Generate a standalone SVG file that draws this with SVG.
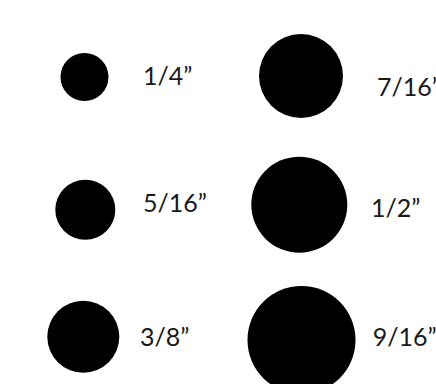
<svg xmlns="http://www.w3.org/2000/svg" width="436" height="384" viewBox="0 0 436 384">
<style>
.dot{fill:#000}
.lbl{font-family:Lato,"DejaVu Sans Condensed","Liberation Sans",sans-serif;font-weight:400;font-size:25px;fill:#1a1a1a}
</style>
<rect width="436" height="384" fill="#fff"/>
<g id="n-1-4"><circle class="dot" cx="84.5" cy="77" r="24"/><text class="lbl" x="143" y="85">1/4”</text></g>
<g id="n-7-16"><circle class="dot" cx="301" cy="76" r="42"/><text class="lbl" x="377" y="95.5">7/16”</text></g>
<g id="n-5-16"><circle class="dot" cx="85.3" cy="209.7" r="30"/><text class="lbl" x="143" y="212.3">5/16”</text></g>
<g id="n-1-2"><circle class="dot" cx="299.3" cy="204.7" r="48"/><text class="lbl" x="371" y="217.3">1/2”</text></g>
<g id="n-3-8"><circle class="dot" cx="83.3" cy="336.8" r="36"/><text class="lbl" x="140" y="346">3/8”</text></g>
<g id="n-9-16"><circle class="dot" cx="301.5" cy="340" r="54"/><text class="lbl" x="372.7" y="346">9/16”</text></g>
<g id="connectors"/>
</svg>
